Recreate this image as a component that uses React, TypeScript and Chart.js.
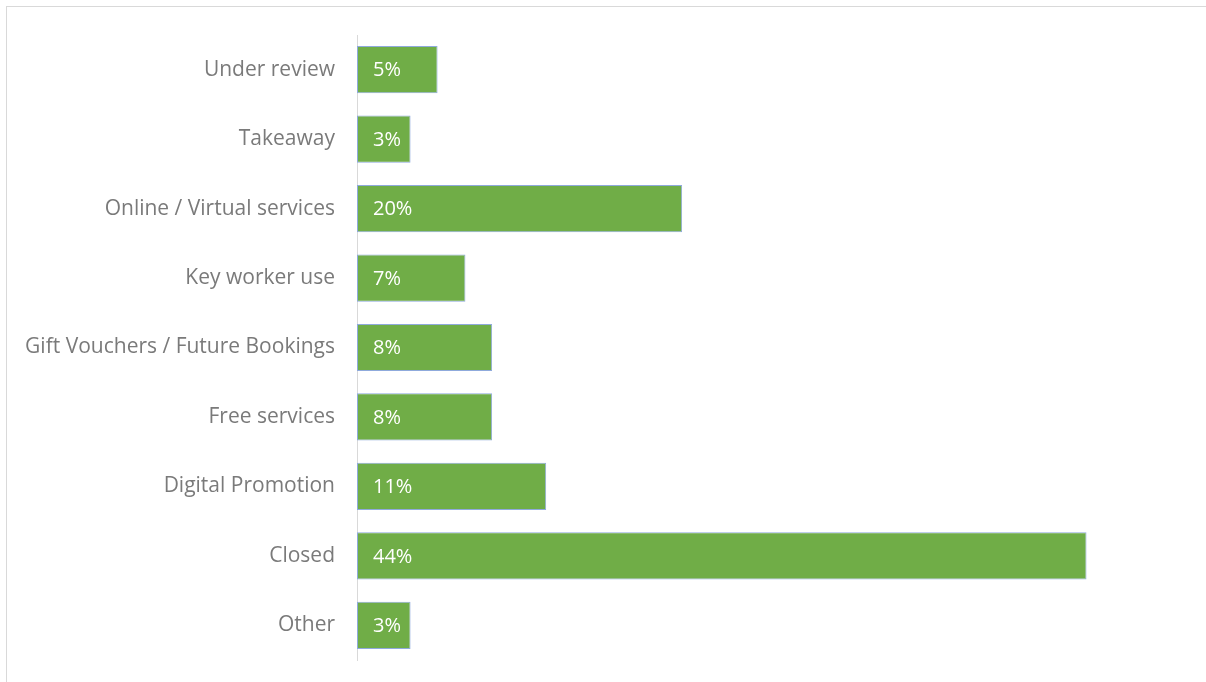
import React, { useEffect, useRef } from "react";
import { Chart, registerables } from "chart.js";

Chart.register(...registerables);

const categories = [
  "Under review",
  "Takeaway",
  "Online / Virtual services",
  "Key worker use",
  "Gift Vouchers / Future Bookings",
  "Free services",
  "Digital Promotion",
  "Closed",
  "Other",
];
const values = [4.86, 3.23, 19.61, 6.54, 8.15, 8.15, 11.41, 44.0, 3.23];
const valueLabels = ["5%", "3%", "20%", "7%", "8%", "8%", "11%", "44%", "3%"];

const FONT = "'Open Sans', sans-serif";

const insideLabels = {
  id: "insideLabels",
  afterDatasetsDraw(chart: any) {
    const ctx = chart.ctx;
    const meta = chart.getDatasetMeta(0);
    ctx.save();
    ctx.fillStyle = "#ffffff";
    ctx.font = `20px ${FONT}`;
    ctx.textAlign = "left";
    ctx.textBaseline = "middle";
    meta.data.forEach((bar: any, i: number) => {
      ctx.fillText(valueLabels[i], bar.base + 16, bar.y + 1);
    });
    ctx.restore();
  },
};

export default function App() {
  const ref = useRef<HTMLCanvasElement>(null);
  useEffect(() => {
    document.body.style.margin = "0";
    const chart = new Chart(ref.current!, {
      type: "bar",
      data: {
        labels: categories,
        datasets: [
          {
            data: values,
            backgroundColor: "#70AD47",
            borderColor: "#8faadc",
            borderWidth: 1,
            borderSkipped: false,
            categoryPercentage: 1,
            barPercentage: 0.68,
          },
        ],
      },
      options: {
        indexAxis: "y",
        animation: false,
        responsive: false,
        maintainAspectRatio: false,
        layout: { padding: { top: 35, bottom: 22, right: 20, left: 0 } },
        plugins: { legend: { display: false }, tooltip: { enabled: false } },
        scales: {
          x: { display: false, min: 0, max: 50 },
          y: {
            afterFit: (scale: any) => {
              scale.width = 357;
              scale.paddingTop = 0;
              scale.paddingBottom = 0;
            },
            grid: { display: false },
            border: { display: true, color: "#d9d9d9", width: 1 },
            ticks: {
              padding: 14,
              color: "#7a7a7a",
              font: { family: FONT, size: 21 },
            },
          },
        },
      },
      plugins: [insideLabels],
    });
    return () => chart.destroy();
  }, []);
  return (
    <div style={{ position: "relative", width: 1206, height: 682, overflow: "hidden", background: "#fff" }}>
      <div
        style={{
          position: "absolute",
          left: 6,
          top: 6,
          width: 1220,
          height: 700,
          border: "1px solid #d9d9d9",
        }}
      />
      <canvas ref={ref} width={1206} height={682} style={{ position: "absolute", left: 0, top: 0 }} />
    </div>
  );
}
